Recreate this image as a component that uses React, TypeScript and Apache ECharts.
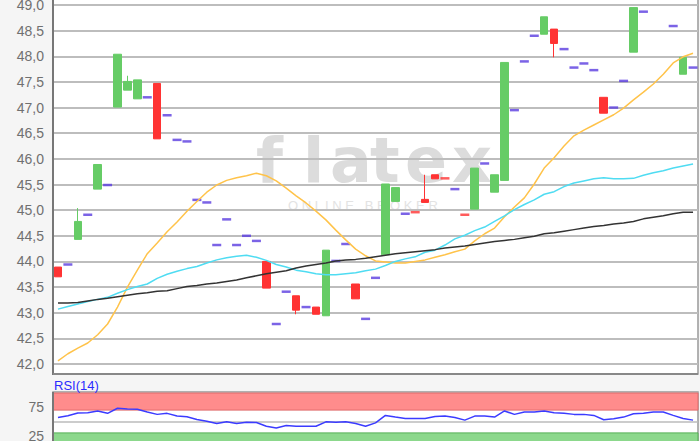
import React, { useEffect, useRef } from 'react';
import * as echarts from 'echarts';

const days = ['1','2','3','4','5','6','7','8','9','10','11','12','13','14','15','16','17','18','19','20','21','22','23','24','25','26','27','28','29','30','31','32','33','34','35','36','37','38','39','40','41','42','43','44','45','46','47','48','49','50','51','52','53','54','55','56','57','58','59','60','61','62','63','64','65'];

const N = null;
const openP = [43.89,N,44.43,N,45.41,N,47.01,47.34,47.17,N,47.47,N,N,N,N,N,N,N,N,N,N,44.00,N,N,43.33,N,43.11,42.94,N,N,43.56,N,N,44.13,45.17,N,N,45.21,45.69,N,N,N,45.02,N,45.35,45.58,N,N,N,48.43,48.53,N,N,N,N,47.20,N,N,48.08,N,N,N,N,47.65,N];
const closeP = [43.70,N,44.78,N,45.89,N,48.04,47.51,47.54,N,46.39,N,N,N,N,N,N,N,N,N,N,43.48,N,N,43.05,N,42.97,44.22,N,N,43.27,N,N,45.51,45.44,N,N,45.15,45.61,N,N,N,45.82,N,45.69,47.88,N,N,N,48.77,48.25,N,N,N,N,46.89,N,N,48.95,N,N,N,N,47.98,N];
const lowP = [43.70,N,44.43,N,45.41,N,47.01,47.34,47.17,N,46.39,N,N,N,N,N,N,N,N,N,N,43.48,N,N,42.97,N,42.97,42.94,N,N,43.27,N,N,44.13,45.17,N,N,45.15,45.61,N,N,N,45.02,N,45.35,45.58,N,N,N,48.43,47.98,N,N,N,N,46.89,N,N,48.08,N,N,N,N,47.65,N];
const highP = [43.89,N,45.04,N,45.89,N,48.04,47.62,47.54,N,47.47,N,N,N,N,N,N,N,N,N,N,44.00,N,N,43.33,N,43.11,44.22,N,N,43.56,N,N,45.51,45.44,N,N,45.69,45.69,N,N,N,45.82,N,45.69,47.88,N,N,N,48.77,48.53,N,N,N,N,47.20,N,N,48.95,N,N,N,N,47.98,N];

const flatBlue = [N,43.94,N,44.91,N,45.49,N,N,N,47.20,N,46.85,46.37,46.34,45.20,45.15,44.32,44.82,44.32,44.50,44.40,N,42.78,43.41,N,43.11,N,N,44.01,44.34,N,42.88,43.68,N,N,44.93,N,N,N,N,45.41,N,N,45.91,N,N,46.95,47.90,48.40,N,N,48.14,47.78,47.86,47.73,N,47.00,47.52,N,48.87,N,N,48.59,N,47.78];
const flatRed = [N,N,N,N,N,N,N,N,N,N,N,N,N,N,N,N,N,N,N,N,N,N,N,N,N,N,N,N,N,N,N,N,N,N,N,N,44.96,N,N,45.62,N,44.91,N,N,N,N,N,N,N,N,N,N,N,N,N,N,N,N,N,N,N,N,N,N,N];

const maOrange = [42.06,42.20,42.31,42.41,42.57,42.78,43.11,43.50,43.83,44.15,44.36,44.58,44.77,44.98,45.17,45.35,45.49,45.58,45.63,45.67,45.72,45.67,45.57,45.43,45.28,45.14,44.98,44.81,44.61,44.42,44.24,44.11,44.01,43.99,43.97,43.97,44.00,44.03,44.08,44.13,44.19,44.24,44.40,44.54,44.65,44.87,45.06,45.24,45.51,45.82,46.02,46.25,46.45,46.56,46.66,46.76,46.86,46.99,47.15,47.30,47.46,47.65,47.87,47.99,48.06];
const maCyan = [43.07,43.12,43.17,43.22,43.26,43.30,43.38,43.45,43.51,43.56,43.67,43.75,43.81,43.86,43.90,43.97,44.03,44.07,44.10,44.12,44.08,44.02,43.94,43.89,43.83,43.80,43.76,43.74,43.74,43.76,43.78,43.82,43.85,43.92,44.00,44.05,44.09,44.18,44.22,44.32,44.44,44.51,44.60,44.67,44.78,44.89,45.01,45.11,45.20,45.31,45.36,45.46,45.53,45.57,45.61,45.63,45.61,45.61,45.62,45.68,45.73,45.77,45.82,45.86,45.90];
const maBlack = [43.19,43.19,43.20,43.23,43.26,43.28,43.31,43.34,43.37,43.39,43.42,43.43,43.47,43.51,43.53,43.56,43.58,43.61,43.64,43.68,43.72,43.76,43.79,43.82,43.87,43.91,43.94,43.97,44.01,44.03,44.04,44.06,44.09,44.12,44.15,44.17,44.19,44.21,44.23,44.26,44.28,44.30,44.33,44.36,44.39,44.41,44.43,44.46,44.49,44.54,44.56,44.59,44.62,44.65,44.68,44.70,44.73,44.75,44.78,44.83,44.86,44.89,44.93,44.96,44.96];

const rsi = [57.1,60.1,64.9,65.5,68.5,64.3,73.2,72.0,71.4,66.7,62.5,64.3,59.5,58.3,53.6,50.6,46.4,49.4,46.4,48.8,48.2,41.7,38.7,42.9,41.7,41.7,41.7,49.4,48.8,49.4,46.4,41.7,47.6,60.7,57.7,55.4,55.4,55.4,58.9,59.5,57.1,52.4,59.5,59.5,57.7,68.5,62.5,66.7,66.7,68.5,65.5,64.3,62.5,62.5,60.7,53.0,54.8,57.7,63.7,64.3,66.7,66.7,60.7,55.4,52.4];

const priceTicks = { min: 42, max: 49, interval: 0.5 };
const rsiTicks = { min: 0, max: 100, interval: 25, shown: [75, 25] };
const rsiBands = { upper: [70, 100], lower: [0, 30] };

const FONT = 'Liberation Sans, Arial, sans-serif';

export default function App() {
  const ref = useRef<HTMLDivElement>(null);
  useEffect(() => {
    const chart = echarts.init(ref.current as HTMLDivElement, undefined, { renderer: 'svg' });
    const candles = days.map((_, i) =>
      openP[i] == null ? ['-', '-', '-', '-'] : [openP[i], closeP[i], lowP[i], highP[i]]
    );
    const dash = (arr: (number | null)[]) => arr.map((v) => (v == null ? '-' : v));
    const wm = (t: string, x: number) => ({
      type: 'text', x, y: 160, z: -5, silent: true,
      style: { text: t, fill: '#dcdcdc', fontSize: 62, fontWeight: 'bold', fontFamily: 'DejaVu Sans', textVerticalAlign: 'middle' },
    });
    chart.setOption({
      animation: false,
      backgroundColor: '#f5f5f5',
      graphic: [
        { type: 'rect', z: -10, silent: true, shape: { x: 53, y: -2, width: 645, height: 376 }, style: { fill: '#ffffff', stroke: '#999999', lineWidth: 1.5 } },
        { type: 'rect', z: -10, silent: true, shape: { x: 53, y: 392, width: 645, height: 60 }, style: { fill: '#ffffff', stroke: '#999999', lineWidth: 1.5 } },
        { type: 'line', z: 10, silent: true, shape: { x1: 53, y1: 0, x2: 53, y2: 375 }, style: { stroke: '#777777', lineWidth: 2 } },
        { type: 'line', z: 10, silent: true, shape: { x1: 53, y1: 374, x2: 698, y2: 374 }, style: { stroke: '#888888', lineWidth: 2 } },
        { type: 'line', z: 10, silent: true, shape: { x1: 53, y1: 392, x2: 53, y2: 441 }, style: { stroke: '#777777', lineWidth: 2 } },
        wm('f', 256), wm('l', 303), wm('a', 330), wm('t', 370), wm('e', 405), wm('x', 452),
        {
          type: 'text', x: 288, y: 205, z: -5, silent: true,
          style: { text: 'O N L I N E   B R O K E R', fill: '#e3e3e3', fontSize: 13, fontFamily: FONT, textVerticalAlign: 'middle' },
        },
        {
          type: 'text', x: 54, y: 385, z: 10, silent: true,
          style: { text: 'RSI(14)', fill: '#2b2bff', fontSize: 13, fontFamily: FONT, textVerticalAlign: 'middle' },
        },
      ],
      grid: [
        { left: 53, top: 5, width: 645, height: 359, outerBoundsMode: 'none', containLabel: false },
        { left: 53, top: 393, width: 645, height: 57, outerBoundsMode: 'none', containLabel: false },
      ],
      xAxis: [
        { type: 'category', data: days, gridIndex: 0, boundaryGap: true, show: false },
        { type: 'category', data: days, gridIndex: 1, boundaryGap: true, show: false },
      ],
      yAxis: [
        {
          type: 'value', gridIndex: 0, min: priceTicks.min, max: priceTicks.max, interval: priceTicks.interval,
          axisLine: { show: false }, axisTick: { show: false },
          axisLabel: { color: '#707070', fontSize: 14, fontFamily: FONT, margin: 9, formatter: (v: number) => v.toFixed(1).replace('.', ',') },
          splitLine: { lineStyle: { color: '#bdbdbd', width: 2 } },
        },
        {
          type: 'value', gridIndex: 1, min: rsiTicks.min, max: rsiTicks.max, interval: rsiTicks.interval,
          axisLine: { show: false }, axisTick: { show: false },
          axisLabel: { color: '#707070', fontSize: 14, fontFamily: FONT, margin: 9, formatter: (v: number) => (rsiTicks.shown.includes(v) ? String(v) : '') },
          splitLine: { lineStyle: { color: '#bbbbbb', width: 1.5 } },
        },
      ],
      series: [
        {
          type: 'candlestick', xAxisIndex: 0, yAxisIndex: 0, data: candles, barWidth: 8,
          itemStyle: { color: '#66cc66', color0: '#ff3333', borderColor: '#66cc66', borderColor0: '#ff3333', borderWidth: 1 },
        },
        { type: 'line', xAxisIndex: 0, yAxisIndex: 0, data: maOrange, showSymbol: false, lineStyle: { color: '#ffc34a', width: 1.5 } },
        { type: 'line', xAxisIndex: 0, yAxisIndex: 0, data: maCyan, showSymbol: false, lineStyle: { color: '#4fdcf2', width: 1.5 } },
        { type: 'line', xAxisIndex: 0, yAxisIndex: 0, data: maBlack, showSymbol: false, lineStyle: { color: '#333333', width: 1.5 } },
        { type: 'scatter', xAxisIndex: 0, yAxisIndex: 0, data: dash(flatBlue), symbol: 'rect', symbolSize: [9, 2.5], itemStyle: { color: '#5a3ce0' } },
        { type: 'scatter', xAxisIndex: 0, yAxisIndex: 0, data: dash(flatRed), symbol: 'rect', symbolSize: [9, 2.5], itemStyle: { color: '#ff3333' } },
        {
          type: 'line', xAxisIndex: 1, yAxisIndex: 1, data: rsi, showSymbol: false, z: 5,
          lineStyle: { color: '#3b3bff', width: 1.5 },
          markArea: {
            silent: true,
            data: [
              [{ yAxis: rsiBands.upper[0], itemStyle: { color: '#ff8c8c', borderColor: '#e06a6a', borderWidth: 1 } }, { yAxis: rsiBands.upper[1] }],
              [{ yAxis: rsiBands.lower[0], itemStyle: { color: '#8cd88c', borderColor: '#55b055', borderWidth: 1 } }, { yAxis: rsiBands.lower[1] }],
            ],
          },
        },
      ],
    });
    return () => chart.dispose();
  }, []);
  return <div ref={ref} style={{ position: 'fixed', left: 0, top: 0, width: 700, height: 441 }} />;
}
